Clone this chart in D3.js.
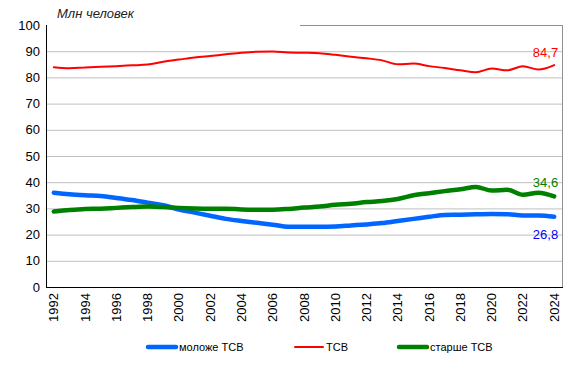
<!DOCTYPE html>
<html>
<head>
<meta charset="utf-8">
<script src="https://cdn.jsdelivr.net/npm/d3@7"></script>
<style>
  body { margin: 0; background: #fff; }
  svg text { font-family: "Liberation Sans", Arial, sans-serif; }
</style>
</head>
<body>
<svg id="chart" width="576" height="371"></svg>
<script>
const years = d3.range(1992, 2025);
const yTicks = [0, 10, 20, 30, 40, 50, 60, 70, 80, 90, 100];

// моложе ТСВ
const younger = [36.0, 35.4, 35.0, 34.7, 34.0, 33.2, 32.2, 31.2, 29.6, 28.4, 27.2,
  26.0, 25.2, 24.5, 23.8, 23.0, 23.0, 23.0, 23.1, 23.5, 23.9, 24.4, 25.2, 26.0,
  26.8, 27.5, 27.6, 27.8, 27.9, 27.8, 27.3, 27.3, 26.8];
// ТСВ
const working = [83.9, 83.5, 83.8, 84.1, 84.3, 84.6, 84.9, 86.0, 86.8, 87.6, 88.2,
  88.8, 89.4, 89.8, 89.9, 89.5, 89.4, 89.2, 88.6, 87.9, 87.3, 86.5, 85.0, 85.3,
  84.3, 83.6, 82.7, 82.0, 83.4, 82.7, 84.3, 83.0, 84.7];
// старше ТСВ
const older = [28.8, 29.4, 29.8, 29.9, 30.2, 30.5, 30.7, 30.5, 30.2, 30.0, 29.9,
  29.9, 29.6, 29.5, 29.5, 29.8, 30.3, 30.7, 31.4, 31.8, 32.4, 32.8, 33.6, 35.0,
  35.8, 36.6, 37.3, 38.2, 36.8, 37.1, 35.2, 36.0, 34.6];

const series = [
  { name: 'моложе ТСВ', values: younger, color: '#0066ff', width: 4.5, label: '26,8', labelColor: '#0000ff', dy: 22 },
  { name: 'ТСВ', values: working, color: '#ff0000', width: 2, label: '84,7', labelColor: '#ff0000', dy: -8 },
  { name: 'старше ТСВ', values: older, color: '#008000', width: 4.5, label: '34,6', labelColor: '#008000', dy: -9 }
];

const plotL = 46, plotR = 562, plotT = 25, plotB = 287;
const svg = d3.select('#chart');

const x = d3.scaleBand().domain(years).range([plotL, plotR]);
const xc = d => x(d) + x.bandwidth() / 2;
const y = d3.scaleLinear().domain([0, 100]).range([plotB, plotT]);

// gridlines
svg.append('g')
  .selectAll('line')
  .data(yTicks.filter(t => t > 0 && t < 100))
  .join('line')
  .attr('x1', plotL).attr('x2', plotR)
  .attr('y1', d => y(d) + 0.5).attr('y2', d => y(d) + 0.5)
  .attr('stroke', '#c0c0c0');

// plot border (right / top)
svg.append('line').attr('x1', plotR + 0.5).attr('x2', plotR + 0.5)
  .attr('y1', plotT).attr('y2', plotB).attr('stroke', '#909090');
svg.append('line').attr('x1', 300).attr('x2', plotR + 0.5)
  .attr('y1', plotT + 0.5).attr('y2', plotT + 0.5).attr('stroke', '#909090');

// y axis labels
svg.append('g')
  .selectAll('text')
  .data(yTicks)
  .join('text')
  .attr('x', 40).attr('y', d => y(d))
  .attr('dy', '0.35em')
  .attr('text-anchor', 'end')
  .attr('font-size', '13px')
  .attr('fill', '#000')
  .text(d => d);

// x axis labels, rotated
svg.append('g')
  .selectAll('text')
  .data(years.filter(d => d % 2 === 0))
  .join('text')
  .attr('transform', d => `translate(${xc(d)},${plotB + 6}) rotate(-90)`)
  .attr('dy', '0.35em')
  .attr('text-anchor', 'end')
  .attr('font-size', '13px')
  .attr('fill', '#000')
  .text(d => d);

// lines
const line = d3.line()
  .x((d, i) => xc(years[i]))
  .y(d => y(d))
  .curve(d3.curveMonotoneX);

series.forEach(s => {
  svg.append('path')
    .datum(s.values)
    .attr('fill', 'none')
    .attr('stroke', s.color)
    .attr('stroke-width', s.width)
    .attr('stroke-linejoin', 'round')
    .attr('stroke-linecap', 'round')
    .attr('d', line);

  const last = s.values.length - 1;
  svg.append('text')
    .attr('x', xc(years[last]) + 4)
    .attr('y', y(s.values[last]) + s.dy)
    .attr('text-anchor', 'end')
    .attr('font-size', '13px')
    .attr('fill', s.labelColor)
    .text(s.label);
});

// axes lines
svg.append('line').attr('x1', plotL + 0.5).attr('x2', plotL + 0.5)
  .attr('y1', plotT).attr('y2', plotB + 1).attr('stroke', '#000');
svg.append('line').attr('x1', plotL).attr('x2', plotR + 1)
  .attr('y1', plotB + 0.5).attr('y2', plotB + 0.5).attr('stroke', '#000');

// title
svg.append('text')
  .attr('x', 57).attr('y', 18)
  .attr('font-size', '13px')
  .attr('font-style', 'italic')
  .attr('fill', '#222')
  .text('Млн человек');

// legend
const legendX = [148, 295, 399];
const legend = svg.append('g')
  .selectAll('g')
  .data(series)
  .join('g')
  .attr('transform', (d, i) => `translate(${legendX[i]},347)`);
legend.append('line')
  .attr('x1', 0).attr('x2', 28)
  .attr('stroke', d => d.color)
  .attr('stroke-width', d => d.width)
  .attr('stroke-linecap', 'round');
legend.append('text')
  .attr('x', 31).attr('dy', '0.35em')
  .attr('font-size', '11px')
  .attr('fill', '#000')
  .text(d => d.name);
</script>
</body>
</html>
